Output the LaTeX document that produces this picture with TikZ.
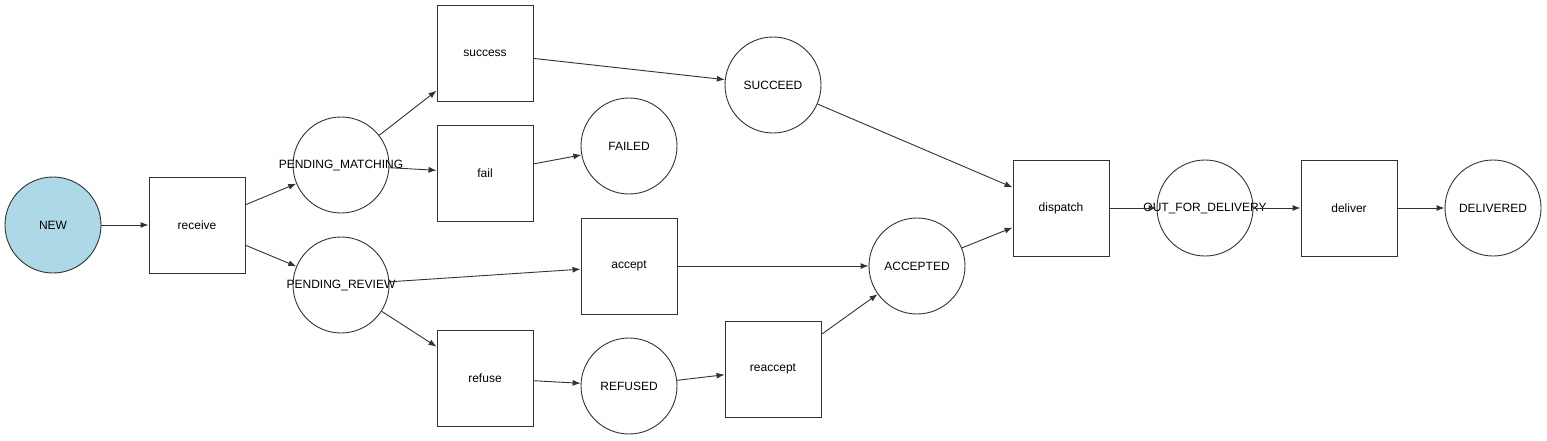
\documentclass[tikz,border=0pt]{standalone}
\usepackage{fontspec}
\setmainfont{Liberation Sans}
\usetikzlibrary{arrows.meta}
\definecolor{ln}{HTML}{333333}
\definecolor{lb}{HTML}{ADD8E6}
\begin{document}
\begin{tikzpicture}[x=1pt,y=-1pt,
  state/.style={circle,draw=ln,line width=0.9pt,minimum size=96pt,inner sep=0pt,font=\fontsize{12}{14}\selectfont,
    execute at begin node=\hbox to 0pt\bgroup\hss, execute at end node=\hss\egroup},
  trans/.style={rectangle,draw=ln,line width=0.9pt,minimum size=96pt,inner sep=0pt,font=\fontsize{12}{14}\selectfont},
  conn/.style={draw=ln,line width=0.9pt,-{Latex[length=8pt,width=6pt]}}]
\useasboundingbox (0,0) rectangle (1547,440);
\node[state,fill=lb] (new) at (53,225) {NEW};
\node[trans] (receive) at (197,225) {receive};
\node[state] (pm) at (341,165) {PENDING\_MATCHING};
\node[state] (pr) at (341,285) {PENDING\_REVIEW};
\node[trans] (success) at (485,53) {success};
\node[trans] (fail) at (485,173) {fail};
\node[state] (failed) at (629,146) {FAILED};
\node[state] (succeed) at (773,85) {SUCCEED};
\node[trans] (accept) at (629,266) {accept};
\node[trans] (refuse) at (485,378) {refuse};
\node[state] (refused) at (629,386) {REFUSED};
\node[trans] (reaccept) at (773,369) {reaccept};
\node[state] (accepted) at (917,266) {ACCEPTED};
\node[trans] (dispatch) at (1061,208) {dispatch};
\node[state] (ofd) at (1205,208) {OUT\_FOR\_DELIVERY};
\node[trans] (deliver) at (1349,208) {deliver};
\node[state] (delivered) at (1493,208) {DELIVERED};
\draw[conn] (new) -- (receive);
\draw[conn] (receive) -- (pm);
\draw[conn] (receive) -- (pr);
\draw[conn] (pm) -- (success);
\draw[conn] (pm) -- (fail);
\draw[conn] (fail) -- (failed);
\draw[conn] (success) -- (succeed);
\draw[conn] (pr) -- (accept);
\draw[conn] (pr) -- (refuse);
\draw[conn] (refuse) -- (refused);
\draw[conn] (refused) -- (reaccept);
\draw[conn] (reaccept) -- (accepted);
\draw[conn] (accept) -- (accepted);
\draw[conn] (succeed) -- (dispatch);
\draw[conn] (accepted) -- (dispatch);
\draw[conn] (dispatch) -- (ofd);
\draw[conn] (ofd) -- (deliver);
\draw[conn] (deliver) -- (delivered);
\end{tikzpicture}
\end{document}
